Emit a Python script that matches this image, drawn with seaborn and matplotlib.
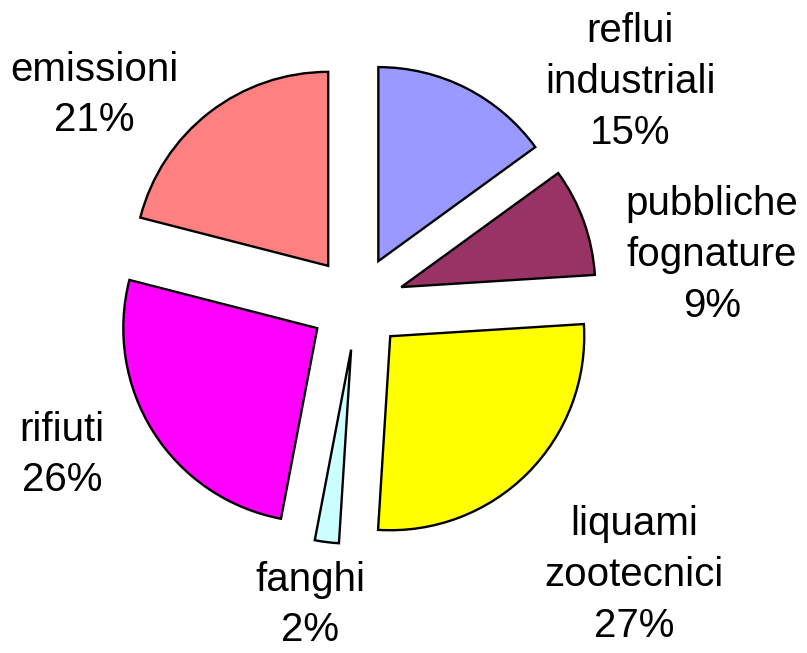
import matplotlib
matplotlib.use("Agg")
import matplotlib.pyplot as plt
import seaborn as sns

categories = ["reflui\nindustriali", "pubbliche\nfognature", "liquami\nzootecnici",
              "fanghi", "rifiuti", "emissioni"]
shares = [15, 9, 27, 2, 26, 21]
colors = ["#9999FF", "#993366", "#FFFF00", "#CCFFFF", "#FF00FF", "#FF8080"]

# label anchors in pixel units (origin bottom-left)
label_xy = [(630, 571), (712, 398), (634, 78), (310, 48), (62, 198), (94, 558)]

sns.set_theme(style="white")
plt.rcParams["font.family"] = ["Liberation Sans", "DejaVu Sans"]

W, H = 807, 653
fig = plt.figure(figsize=(W / 100, H / 100), dpi=100)
ax = fig.add_axes([0, 0, 1, 1])

ax.pie(shares, colors=colors, startangle=90, counterclock=False,
       center=(357, 350), radius=194, explode=[47] * len(shares),
       wedgeprops=dict(edgecolor="black", linewidth=1.7))

for name, val, (x, y) in zip(categories, shares, label_xy):
    ax.text(x, y, f"{name}\n{val}%", ha="center", va="center",
            fontsize=29, linespacing=1.42, color="black")

ax.set_xlim(0, W)
ax.set_ylim(0, H)
ax.set_aspect("equal")
ax.axis("off")

fig.savefig("out.png", dpi=100)
